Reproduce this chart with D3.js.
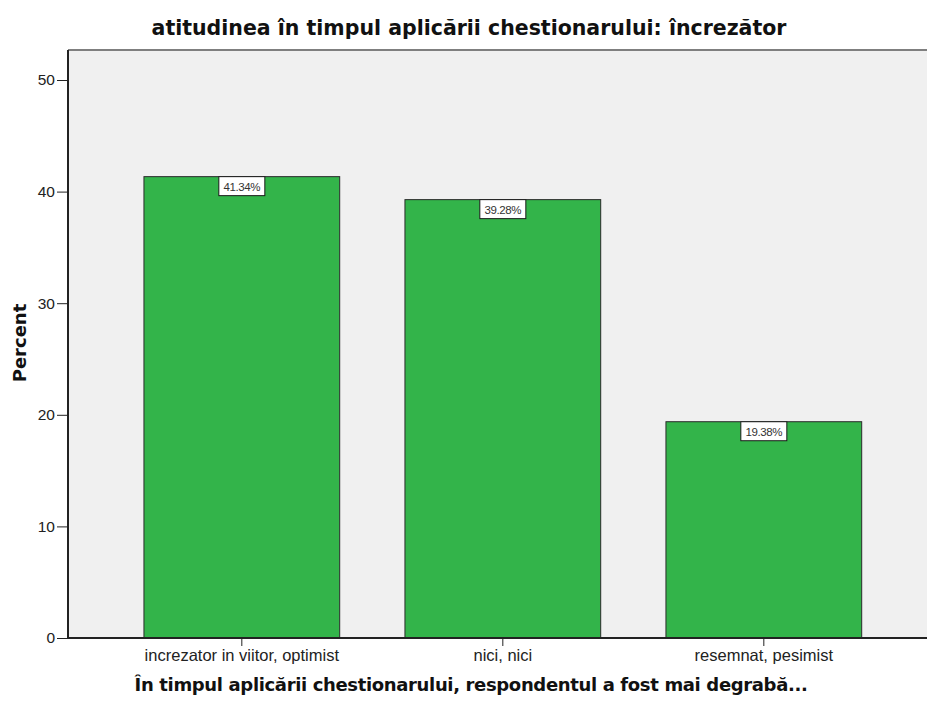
<!DOCTYPE html>
<html lang="ro">
<head>
<meta charset="utf-8">
<title>atitudinea</title>
<script src="https://cdn.jsdelivr.net/npm/d3@7/dist/d3.min.js"></script>
<style>
    body { margin: 0; background: #fff; }
    svg { display: block; font-family: "Liberation Sans", Arial, sans-serif; }
</style>
</head>
<body>
<div id="chart_div"></div>
<script>
"use strict";
var categories = ["increzator in viitor, optimist", "nici, nici", "resemnat, pesimist"];
var percents = [41.34, 39.28, 19.38];
var y_ticks = [0, 10, 20, 30, 40, 50];

var svg_width = 927;
var svg_height = 701;
var plot_left = 68;
var plot_top = 50;
var plot_bottom = 638;

var svg = d3.select("#chart_div")
    .append("svg")
    .attr("width", svg_width)
    .attr("height", svg_height);

var x = d3.scaleBand()
    .domain(categories)
    .range([plot_left, plot_left + 261 * (2.75 + 2 * 0.291)])
    .paddingInner(0.25)
    .paddingOuter(0.291);

var y = d3.scaleLinear()
    .domain([0, 50])
    .range([plot_bottom, 80]);

// plot background
svg.append("rect")
    .attr("x", plot_left)
    .attr("y", plot_top)
    .attr("width", svg_width - plot_left + 20)
    .attr("height", plot_bottom - plot_top)
    .attr("fill", "#f0f0f0");
svg.append("line")
    .attr("x1", plot_left).attr("x2", svg_width)
    .attr("y1", plot_top).attr("y2", plot_top)
    .attr("stroke", "#7f7f7f").attr("stroke-width", 2);

// bars
svg.selectAll("rect.bar")
    .data(percents)
    .enter()
    .append("rect")
    .attr("class", "bar")
    .attr("x", (d, i) => x(categories[i]))
    .attr("y", d => y(d))
    .attr("width", x.bandwidth())
    .attr("height", d => plot_bottom - y(d))
    .attr("fill", "#33b44a")
    .attr("stroke", "#2a2a2a")
    .attr("stroke-width", 1);

// value labels
var labels = svg.selectAll("g.lbl")
    .data(percents)
    .enter()
    .append("g")
    .attr("class", "lbl")
    .attr("transform", (d, i) => "translate(" + (x(categories[i]) + x.bandwidth() / 2) + "," + y(d) + ")");
labels.append("rect")
    .attr("x", -23).attr("y", 0)
    .attr("width", 46).attr("height", 19)
    .attr("fill", "#fff")
    .attr("stroke", "#1a1a1a");
labels.append("text")
    .attr("y", 14)
    .attr("text-anchor", "middle")
    .style("font-size", "11.5px")
    .style("letter-spacing", "-0.4px")
    .attr("fill", "#333")
    .text(d => d.toFixed(2) + "%");

// y axis
var yAxis = d3.axisLeft(y).tickValues(y_ticks).tickSize(11).tickPadding(2);
var gy = svg.append("g")
    .attr("transform", "translate(" + plot_left + ",0)")
    .call(yAxis);
gy.select(".domain").attr("d", "M0," + plot_top + "V" + plot_bottom).attr("stroke", "#222").attr("stroke-width", 2);
gy.selectAll(".tick line").attr("stroke", "#222");
gy.selectAll(".tick text").style("font-size", "15.5px").attr("fill", "#222").attr("font-family", "Liberation Sans, Arial, sans-serif");

// x axis
var xAxis = d3.axisBottom(x).tickSize(8).tickPadding(3);
var gx = svg.append("g")
    .attr("transform", "translate(0," + plot_bottom + ")")
    .call(xAxis);
gx.select(".domain").attr("d", "M" + plot_left + ",0H" + svg_width).attr("stroke", "#222").attr("stroke-width", 2);
gx.selectAll(".tick line").attr("stroke", "#222");
gx.selectAll(".tick text").style("font-size", "16.5px").attr("fill", "#222").attr("font-family", "Liberation Sans, Arial, sans-serif");

// titles
svg.append("text")
    .attr("x", 469).attr("y", 35)
    .attr("text-anchor", "middle")
    .style("font-size", "20.5px").style("font-weight", "bold")
    .style("font-family", "DejaVu Sans, sans-serif")
    .attr("fill", "#111")
    .text("atitudinea în timpul aplicării chestionarului: încrezător");
svg.append("text")
    .attr("x", 471).attr("y", 691)
    .attr("text-anchor", "middle")
    .style("font-size", "18px").style("font-weight", "bold")
    .style("font-family", "DejaVu Sans, sans-serif")
    .style("letter-spacing", "-0.35px")
    .attr("fill", "#111")
    .text("În timpul aplicării chestionarului, respondentul a fost mai degrabă...");
svg.append("text")
    .attr("transform", "translate(26,343) rotate(-90)")
    .attr("text-anchor", "middle")
    .style("font-size", "18px").style("font-weight", "bold")
    .style("font-family", "DejaVu Sans, sans-serif")
    .attr("fill", "#111")
    .text("Percent");
</script>
</body>
</html>
